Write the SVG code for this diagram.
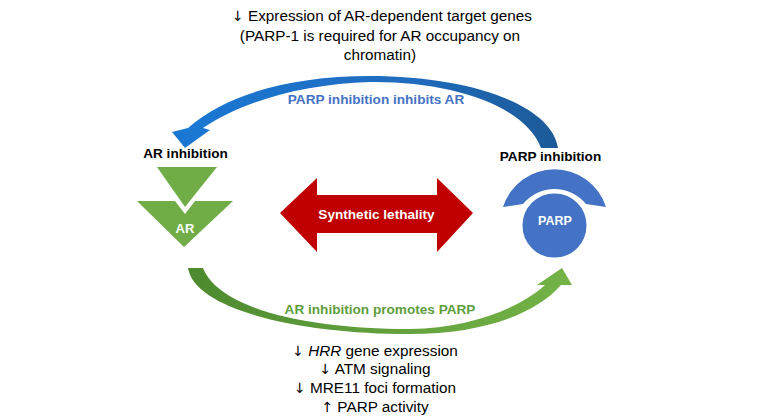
<svg xmlns="http://www.w3.org/2000/svg" width="760" height="420" viewBox="0 0 760 420">
  <defs>
    <linearGradient id="gBlue" x1="0" y1="0" x2="1" y2="0">
      <stop offset="0" stop-color="#1a78d4"/>
      <stop offset="0.6" stop-color="#1f6cbf"/>
      <stop offset="1" stop-color="#1c5a98"/>
    </linearGradient>
    <linearGradient id="gGreen" x1="0" y1="0" x2="1" y2="0">
      <stop offset="0" stop-color="#4d8a2f"/>
      <stop offset="0.5" stop-color="#62a03d"/>
      <stop offset="1" stop-color="#74b346"/>
    </linearGradient>
    <style>
      text { font-family: "Liberation Sans", Arial, sans-serif; }
      .note { font-size: 15.3px; fill: #000; text-anchor: middle; }
      .arw { font-family: "DejaVu Sans", sans-serif; font-size: 14px; }
      .lbl { font-size: 13.6px; font-weight: bold; fill: #000; text-anchor: middle; }
      .in { font-size: 13px; font-weight: bold; fill: #fff; text-anchor: middle; }
      .blueT { font-size: 13.6px; font-weight: bold; fill: #4472c4; text-anchor: middle; }
      .greenT { font-size: 13.6px; font-weight: bold; fill: #5e9e3c; text-anchor: middle; }
      .ar { fill: #70ad47; }
      .parp { fill: #4472c4; }
    </style>
  </defs>
  <rect width="760" height="420" fill="#fff"/>

  <g id="top-note">
    <text class="note" x="382" y="21"><tspan class="arw">↓</tspan> Expression of AR-dependent target genes</text>
    <text class="note" x="380" y="41">(PARP-1 is required for  AR occupancy on</text>
    <text class="note" x="380" y="60">chromatin)</text>
  </g>

  <g id="connectors">
    <path id="parp-to-ar" fill="url(#gBlue)" d="M 558,148 C 552,105 470,76 370,76 C 290,76 225,95 188,128 L 172,132 L 185,148 L 210,130 L 203,128 C 245,100 305,84 370,82 C 450,81 525,105 541,148 Z"/>
    <path id="ar-to-parp" fill="url(#gGreen)" d="M 188,268 C 195,310 300,334 410,334 C 480,334 535,315 561,285 L 572,285 L 562,268 L 537,285 L 545,285 C 520,308 470,328 410,329 C 310,329 220,310 203,268 Z"/>
    <text class="blueT" x="376" y="104">PARP inhibition inhibits AR</text>
    <text class="greenT" x="380" y="314">AR inhibition promotes PARP</text>
  </g>

  <g id="ar-node">
    <text class="lbl" x="185.5" y="158">AR inhibition</text>
    <polygon class="ar" points="157,167 217,167 185,207"/>
    <polygon class="ar" points="137,201 175,201 185,214 195,201 233,201 184,247"/>
    <text class="in" x="185" y="233">AR</text>
  </g>

  <g id="parp-node">
    <text class="lbl" x="550.5" y="161">PARP inhibition</text>
    <path class="parp" d="M 503,207 A 54 54 0 0 1 606,207 L 586,204 A 40.6 40.6 0 0 0 523,204 Z"/>
    <circle class="parp" cx="554.5" cy="225.5" r="33.5" stroke="#fff" stroke-width="3"/>
    <text class="in" x="555" y="225" style="font-size:12.5px">PARP</text>
  </g>

  <g id="synthetic-lethality">
    <polygon fill="#c00000" points="280,213 317,178 317,195 437,195 437,178 473,213 437,252 437,233 317,233 317,252"/>
    <text class="in" x="376.5" y="219" style="font-size:13.6px">Synthetic lethality</text>
  </g>

  <g id="bottom-note">
    <text class="note" x="375" y="356"><tspan class="arw">↓</tspan> <tspan font-style="italic">HRR</tspan> gene expression</text>
    <text class="note" x="375" y="374"><tspan class="arw">↓</tspan> ATM signaling</text>
    <text class="note" x="375" y="393"><tspan class="arw">↓</tspan> MRE11 foci formation</text>
    <text class="note" x="375" y="412"><tspan class="arw">↑</tspan> PARP activity</text>
  </g>
</svg>
